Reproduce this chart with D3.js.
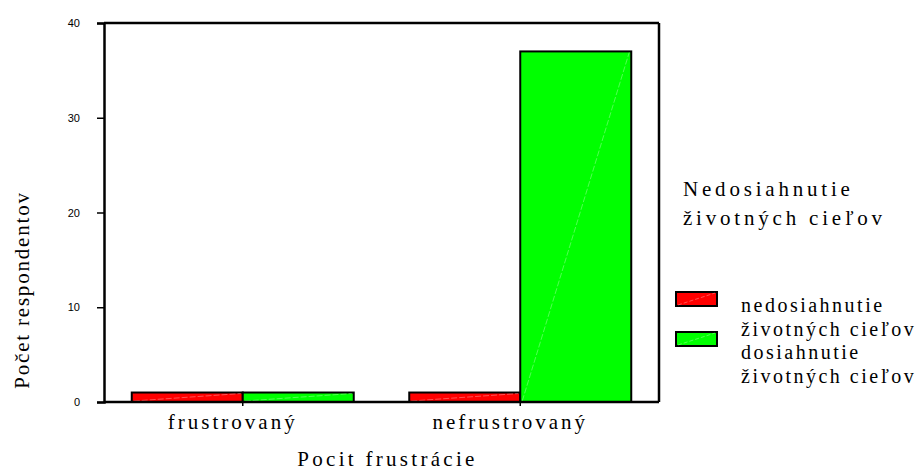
<!DOCTYPE html>
<html>
<head>
<meta charset="utf-8">
<script src="https://cdn.jsdelivr.net/npm/d3@7"></script>
<style>
  html, body { margin: 0; padding: 0; background: #fff; }
  svg { display: block; }
</style>
</head>
<body>
<script>
// ---- data ----
const categories = ["frustrovaný", "nefrustrovaný"];
const seriesNames = ["nedosiahnutie životných cieľov", "dosiahnutie životných cieľov"];
const seriesLabelLines = [["nedosiahnutie", "životných cieľov"], ["dosiahnutie", "životných cieľov"]];
const seriesColors = ["#ff0000", "#00ff00"];
const nedosiahnutie = [1, 1];
const dosiahnutie = [1, 37];
const yTicks = [0, 10, 20, 30, 40];
const yTitle = "Počet respondentov";
const xTitle = "Pocit frustrácie";
const legendTitle = ["Nedosiahnutie", "životných cieľov"];

const SERIF = '"Liberation Serif", Tinos, "Times New Roman", "Nimbus Roman", "DejaVu Serif", serif';
const SANS = '"Liberation Sans", Arial, sans-serif';

const W = 922, H = 472;
const m = { left: 104, right: 659, top: 23, bottom: 402 };

const svg = d3.select("body").append("svg").attr("width", W).attr("height", H);
svg.append("rect").attr("width", W).attr("height", H).attr("fill", "#fff");

const x = d3.scaleBand().domain(categories).range([m.left, m.right]).padding(0);
const xs = d3.scaleBand().domain(seriesNames).range([x.bandwidth() * 0.1, x.bandwidth() * 0.9]).padding(0);
const y = d3.scaleLinear().domain([0, 40]).range([m.bottom, m.top]);

const values = [nedosiahnutie, dosiahnutie];
const rows = [];
categories.forEach((c, i) => seriesNames.forEach((s, j) => rows.push({ c, s, j, v: values[j][i] })));

// bars
const g = svg.append("g");
const bar = g.selectAll("g.bar").data(rows).enter().append("g");
bar.append("rect")
  .attr("x", d => x(d.c) + xs(d.s))
  .attr("y", d => y(d.v))
  .attr("width", xs.bandwidth())
  .attr("height", d => y(0) - y(d.v))
  .attr("fill", d => seriesColors[d.j])
  .attr("stroke", "#000").attr("stroke-width", 2);
bar.append("line")
  .attr("x1", d => x(d.c) + xs(d.s) + 2)
  .attr("y1", d => y(0) - 1)
  .attr("x2", d => x(d.c) + xs(d.s) + xs.bandwidth() - 2)
  .attr("y2", d => y(d.v) + 1)
  .attr("stroke", "rgba(255,255,255,0.45)").attr("stroke-width", 0.7)
  .attr("stroke-dasharray", "6,2");

// frame
const frame = svg.append("g").attr("stroke", "#000").attr("stroke-width", 2.5).attr("fill", "none");
frame.append("line").attr("x1", m.left).attr("x2", m.right).attr("y1", y(40)).attr("y2", y(40));
frame.append("line").attr("x1", m.right).attr("x2", m.right).attr("y1", y(40)).attr("y2", y(0));
frame.append("line").attr("x1", m.left).attr("x2", m.right).attr("y1", y(0)).attr("y2", y(0));

// y axis
const yAxis = svg.append("g").attr("transform", `translate(${m.left},0)`)
  .call(d3.axisLeft(y).tickValues(yTicks).tickSize(7).tickPadding(17).tickFormat(d3.format("d")));
yAxis.select(".domain").attr("stroke-width", 2.5);
yAxis.selectAll(".tick line").attr("stroke-width", 1.5);
yAxis.selectAll(".tick text").attr("font-size", 11).attr("font-family", SANS);

// x axis
const xAxis = svg.append("g").attr("transform", `translate(0,${m.bottom})`)
  .call(d3.axisBottom(x).tickSize(4).tickPadding(8));
xAxis.select(".domain").remove();
xAxis.selectAll(".tick line").attr("stroke-width", 1.5);
xAxis.selectAll(".tick text")
  .attr("font-family", SERIF)
  .attr("font-size", 21).attr("letter-spacing", 3).attr("dy", "0.72em").attr("dx", -10);

// titles
svg.append("text").attr("font-family", SERIF).attr("font-size", 21).attr("letter-spacing", 3.3)
  .attr("text-anchor", "middle").attr("x", (m.left + m.right) / 2 + 6).attr("y", 466).text(xTitle);
svg.append("text").attr("font-family", SERIF).attr("font-size", 21).attr("letter-spacing", 1.8)
  .attr("text-anchor", "middle")
  .attr("transform", `translate(29,290) rotate(-90)`).text(yTitle);

// legend
const lg = svg.append("g");
lg.selectAll("text.lt").data(legendTitle).enter().append("text")
  .attr("font-family", SERIF).attr("font-size", 21).attr("letter-spacing", 3.8)
  .attr("x", 683).attr("y", (d, i) => 196 + i * 29).text(d => d);
const item = lg.selectAll("g.item").data(seriesNames).enter().append("g");
item.append("rect").attr("x", 676).attr("y", (d, i) => 292 + i * 40).attr("width", 41).attr("height", 14)
  .attr("fill", (d, i) => seriesColors[i]).attr("stroke", "#000").attr("stroke-width", 2);
item.append("line")
  .attr("x1", 678).attr("x2", 715)
  .attr("y1", (d, i) => 305 + i * 40).attr("y2", (d, i) => 293 + i * 40)
  .attr("stroke", "rgba(255,255,255,0.45)").attr("stroke-width", 0.7).attr("stroke-dasharray", "4,2");
item.each(function (d, i) {
  d3.select(this).selectAll("text").data(seriesLabelLines[i]).enter().append("text")
    .attr("font-family", SERIF).attr("font-size", 20).attr("letter-spacing", 2.5)
    .attr("x", 741).attr("y", (t, k) => 312 + i * 47 + k * 23.5).text(t => t);
});
</script>
</body>
</html>
